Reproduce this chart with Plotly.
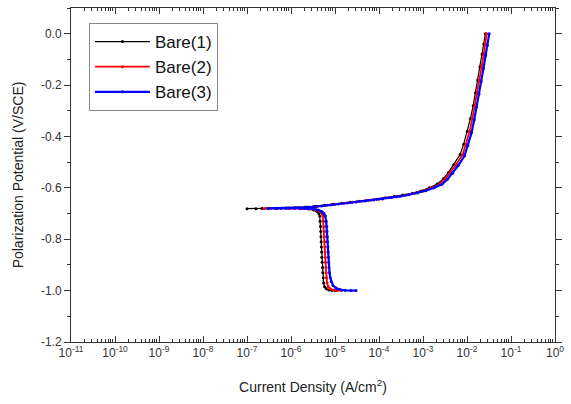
import plotly.graph_objects as go

# ---- data ----
bare1_E = [-1.000, -1.000, -0.998, -0.993, -0.985, -0.970, -0.950, -0.930, -0.910, -0.890,
           -0.870, -0.850, -0.830, -0.810, -0.790, -0.770, -0.750, -0.730, -0.710, -0.700,
           -0.692, -0.686, -0.682, -0.680, -0.679, -0.679, -0.680, -0.681,
           -0.681, -0.680, -0.679, -0.678, -0.677, -0.675, -0.672, -0.668, -0.664, -0.660,
           -0.656, -0.652, -0.648, -0.644, -0.639, -0.634, -0.628, -0.621, -0.612, -0.600,
           -0.585, -0.565, -0.540, -0.510, -0.470, -0.430, -0.380, -0.330, -0.280, -0.230,
           -0.180, -0.130, -0.080, -0.040, 0.000]
bare1_i = [1.0e-5, 8.5e-6, 7.2e-6, 6.3e-6, 5.8e-6, 5.5e-6, 5.4e-6, 5.3e-6, 5.2e-6, 5.1e-6,
           5.0e-6, 4.95e-6, 4.9e-6, 4.85e-6, 4.8e-6, 4.75e-6, 4.7e-6, 4.6e-6, 4.5e-6, 4.3e-6,
           3.9e-6, 3.3e-6, 2.5e-6, 1.6e-6, 9e-7, 4.5e-7, 2.2e-7, 1.0e-7,
           1.6e-7, 3e-7, 5e-7, 8e-7, 1.3e-6, 2.2e-6, 3.5e-6, 5.8e-6, 9e-6, 1.4e-5,
           2.2e-5, 3.5e-5, 5.7e-5, 9e-5, 1.4e-4, 2.2e-4, 3.5e-4, 5.7e-4, 9e-4, 1.4e-3,
           2.1e-3, 2.9e-3, 3.8e-3, 5.0e-3, 7.0e-3, 8.4e-3, 1.02e-2, 1.2e-2, 1.38e-2, 1.56e-2,
           1.75e-2, 1.97e-2, 2.2e-2, 2.4e-2, 2.6e-2]

bare2_E = [-1.000, -1.000, -0.998, -0.993, -0.985, -0.970, -0.950, -0.930, -0.910, -0.890,
           -0.870, -0.850, -0.830, -0.810, -0.790, -0.770, -0.750, -0.730, -0.710, -0.700,
           -0.692, -0.686, -0.682, -0.680, -0.679, -0.679, -0.680,
           -0.680, -0.679, -0.678, -0.677, -0.675, -0.672, -0.668, -0.664, -0.660,
           -0.656, -0.652, -0.648, -0.644, -0.639, -0.634, -0.628, -0.621, -0.612, -0.600,
           -0.585, -0.565, -0.540, -0.510, -0.470, -0.430, -0.380, -0.330, -0.280, -0.230,
           -0.180, -0.130, -0.080, -0.040, 0.000]
bare2_i = [1.4e-5, 1.1e-5, 9.0e-6, 7.8e-6, 7.0e-6, 6.6e-6, 6.4e-6, 6.3e-6, 6.2e-6, 6.1e-6,
           6.0e-6, 5.95e-6, 5.9e-6, 5.85e-6, 5.8e-6, 5.7e-6, 5.6e-6, 5.5e-6, 5.3e-6, 5.0e-6,
           4.5e-6, 3.8e-6, 2.8e-6, 1.8e-6, 1.0e-6, 5e-7, 2.5e-7,
           3.5e-7, 6e-7, 9e-7, 1.5e-6, 2.5e-6, 4e-6, 6.5e-6, 1.0e-5, 1.6e-5,
           2.5e-5, 4e-5, 6.5e-5, 1.0e-4, 1.6e-4, 2.5e-4, 4e-4, 6.5e-4, 1.0e-3, 1.6e-3,
           2.4e-3, 3.2e-3, 4.2e-3, 5.6e-3, 8.0e-3, 9.5e-3, 1.15e-2, 1.32e-2, 1.5e-2, 1.7e-2,
           1.9e-2, 2.15e-2, 2.4e-2, 2.6e-2, 2.8e-2]

bare3_E = [-1.000, -1.000, -0.999, -0.996, -0.990, -0.980, -0.965, -0.950, -0.930, -0.910,
           -0.890, -0.870, -0.850, -0.830, -0.810, -0.790, -0.770, -0.750, -0.730, -0.710,
           -0.700, -0.692, -0.686, -0.682, -0.680, -0.679, -0.679, -0.680,
           -0.680, -0.679, -0.678, -0.676, -0.674, -0.671, -0.667, -0.663, -0.659,
           -0.655, -0.651, -0.647, -0.643, -0.638, -0.633, -0.627, -0.620, -0.611, -0.600,
           -0.586, -0.567, -0.543, -0.513, -0.475, -0.435, -0.385, -0.335, -0.285, -0.235,
           -0.185, -0.135, -0.085, -0.045, 0.000]
bare3_i = [3.0e-5, 2.3e-5, 1.7e-5, 1.3e-5, 1.05e-5, 9.0e-6, 8.2e-6, 7.8e-6, 7.5e-6, 7.3e-6,
           7.2e-6, 7.1e-6, 7.0e-6, 6.9e-6, 6.8e-6, 6.7e-6, 6.6e-6, 6.5e-6, 6.3e-6, 6.0e-6,
           5.6e-6, 5.0e-6, 4.2e-6, 3.2e-6, 2.0e-6, 1.2e-6, 6e-7, 3e-7,
           4.5e-7, 7.5e-7, 1.2e-6, 2.0e-6, 3.2e-6, 5e-6, 8e-6, 1.2e-5, 1.9e-5,
           3e-5, 4.8e-5, 7.5e-5, 1.2e-4, 1.9e-4, 3e-4, 4.8e-4, 7.5e-4, 1.15e-3, 1.8e-3,
           2.7e-3, 3.6e-3, 4.7e-3, 6.3e-3, 8.8e-3, 1.05e-2, 1.27e-2, 1.46e-2, 1.66e-2, 1.88e-2,
           2.1e-2, 2.37e-2, 2.65e-2, 2.9e-2, 3.2e-2]

series_names = ["Bare(1)", "Bare(2)", "Bare(3)"]
series_colors = ["#000000", "#ff0000", "#0000ff"]
series_widths = [1.2, 1.8, 2.2]

x_tickvals = [1e-11, 1e-10, 1e-9, 1e-8, 1e-7, 1e-6, 1e-5, 1e-4, 1e-3, 1e-2, 1e-1, 1e0]
x_ticktext = ["10<sup>-11</sup>", "10<sup>-10</sup>", "10<sup>-9</sup>", "10<sup>-8</sup>",
              "10<sup>-7</sup>", "10<sup>-6</sup>", "10<sup>-5</sup>", "10<sup>-4</sup>",
              "10<sup>-3</sup>", "10<sup>-2</sup>", "10<sup>-1</sup>", "10<sup>0</sup>"]
y_tickvals = [0.0, -0.2, -0.4, -0.6, -0.8, -1.0, -1.2]
y_ticktext = ["0.0", "-0.2", "-0.4", "-0.6", "-0.8", "-1.0", "-1.2"]

x_minor = [m * d for d in x_tickvals[:-1] for m in range(2, 10)]
y_minor = [-1.1, -0.9, -0.7, -0.5, -0.3, -0.1, 0.1]

fig = go.Figure()
for name, color, w, xs, ys in zip(series_names, series_colors, series_widths,
                                  [bare1_i, bare2_i, bare3_i], [bare1_E, bare2_E, bare3_E]):
    fig.add_trace(go.Scatter(
        x=xs, y=ys, name=name, mode="lines+markers",
        line=dict(color=color, width=w),
        marker=dict(color=color, size=3, symbol="circle"),
    ))

axis_color = "#333333"
fig.update_layout(
    width=571, height=404,
    margin=dict(l=71, r=12, t=7, b=62),
    paper_bgcolor="white", plot_bgcolor="white",
    font=dict(family="Liberation Sans, Arial, sans-serif", color="#333333"),
    showlegend=True,
    legend=dict(
        x=0.037, y=0.955, xanchor="left", yanchor="top",
        bgcolor="white", bordercolor="#888888", borderwidth=1,
        font=dict(size=17, color="#111111"),
        tracegroupgap=0, itemwidth=55,
    ),
    xaxis=dict(
        type="log", range=[-11, 0],
        tickmode="array", tickvals=x_tickvals, ticktext=x_ticktext,
        ticks="inside", ticklen=6, tickcolor=axis_color,
        showline=True, linecolor=axis_color, linewidth=1, mirror="allticks",
        showgrid=False, zeroline=False,
        minor=dict(tickmode="array", tickvals=x_minor, ticks="inside", ticklen=3,
                   tickcolor=axis_color, showgrid=False),
        tickfont=dict(size=12, color="#333333"),
        title=dict(text="Current Density (A/cm<sup>2</sup>)", font=dict(size=14, color="#222222"),
                   standoff=22),
    ),
    yaxis=dict(
        range=[-1.2, 0.1],
        tickmode="array", tickvals=y_tickvals, ticktext=y_ticktext,
        ticks="outside", ticklen=6, tickcolor=axis_color,
        showline=True, linecolor=axis_color, linewidth=1, mirror="allticks",
        showgrid=False, zeroline=False,
        minor=dict(tickmode="array", tickvals=y_minor, ticks="outside", ticklen=3,
                   tickcolor=axis_color, showgrid=False),
        tickfont=dict(size=12, color="#333333"),
        title=dict(text="Polarization Potential (V/SCE)", font=dict(size=14, color="#222222"),
                   standoff=14),
    ),
)

fig.write_html("out.html")
